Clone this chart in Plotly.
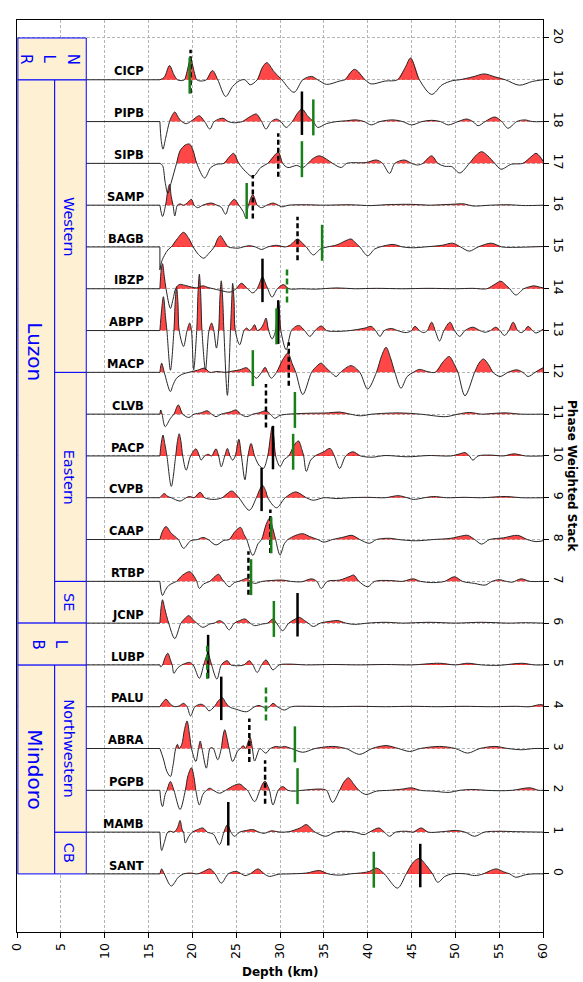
import plotly.graph_objects as go

# ---------------- data ----------------
stations = ["SANT", "MAMB", "PGPB", "ABRA", "PALU", "LUBP", "JCNP", "RTBP", "CAAP", "CVPB",
            "PACP", "CLVB", "MACP", "ABPP", "IBZP", "BAGB", "SAMP", "SIPB", "PIPB", "CICP"]

# (depth km, amplitude) control points
sant = [(16.3,0),(16.5,0.12),(16.8,0),(17.6,-0.29),(18.4,-0.08),(19.0,0),(19.8,0.02),(20.6,0),(21.3,0.06),(22.0,0.12),(22.6,0),(23.3,-0.22),(24.1,0),(25.0,0.06),(25.6,0),(26.0,-0.04),(26.6,0),(27.5,0.12),(28.2,0),(28.8,-0.06),(29.8,-0.01),(31,0),(33,0.02),(34.5,0.08),(35.5,0),(36.8,-0.03),(38,0),(39.5,0.03),(40.2,0.06),(41.0,0.14),(41.9,0),(43.4,-0.34),(44.4,0),(45.2,0.28),(45.9,0.37),(46.7,0.2),(47.4,0),(48.0,-0.2),(48.8,-0.06),(49.6,0),(50.3,0.01),(51.2,0),(52.2,-0.04),(53.2,0),(54.0,0.08),(54.7,0.12),(55.5,0.05),(56.2,0),(56.9,-0.08),(58.0,-0.02),(58.9,0),(60,0)]
mamb = [(16.3,0),(16.5,-0.44),(16.8,-0.25),(17.2,0),(17.5,0.02),(17.9,0),(18.3,0.1),(18.6,0.28),(18.85,0.05),(19.0,0),(19.2,-0.26),(19.6,-0.1),(20.0,0),(20.6,0.06),(21.2,0.1),(21.7,0),(22.4,-0.05),(23.1,-0.3),(23.6,0),(24.0,0.18),(24.4,0),(24.8,-0.1),(25.4,0),(26.2,0.04),(26.9,0.06),(27.6,0),(28.2,-0.03),(29.0,0.03),(30,0),(31,0.01),(32.3,0.1),(33.0,0.18),(33.7,0.05),(34.0,0),(35.2,-0.1),(36.3,0),(37.5,0.02),(38.5,0),(39.6,-0.06),(40.2,0),(41.3,0.1),(41.9,0),(42.5,-0.1),(43.2,0),(44.5,0.02),(45.2,0),(46.1,0.1),(46.9,0),(48.5,0.01),(50.1,0.04),(51.1,0),(52.2,-0.1),(53.3,0),(55,0.02),(57,0.01),(60,0)]
pgpb = [(16.3,0),(16.45,-0.3),(16.6,-0.39),(16.9,-0.1),(17.1,0),(17.5,0.21),(17.9,0),(18.6,-0.46),(19.2,0),(19.5,0.35),(19.9,0.54),(20.2,0.3),(20.4,0),(20.8,-0.35),(21.2,-0.1),(21.6,0),(22.0,0.05),(22.4,0),(23.1,-0.07),(23.8,0),(24.6,0.1),(25.4,0.15),(26.0,0.05),(26.3,0),(27.1,-0.27),(27.7,0),(28.0,0.15),(28.3,0.22),(28.6,0.1),(28.8,0),(29.2,-0.35),(29.8,0),(30.3,0.09),(30.9,0),(31.5,-0.02),(32.5,0),(34.7,0.03),(35.3,0),(36.0,-0.29),(36.8,0),(37.3,0.2),(37.8,0.3),(38.4,0.15),(39.0,0),(39.8,-0.1),(41,-0.02),(42.5,0),(44.0,0.03),(45.0,0.06),(46.0,0),(47.5,-0.02),(49.3,-0.05),(50.5,0),(52,0.02),(53.5,0),(55,-0.01),(56.5,0),(58.5,0.06),(59.5,0),(60,0)]
abra = [(16.3,0),(16.7,-0.25),(17.1,-0.55),(17.5,-0.67),(17.8,-0.4),(18.1,0),(18.3,0.1),(18.5,0),(18.8,0.1),(19.1,0.45),(19.4,0.66),(19.7,0.3),(19.9,0),(20.4,-0.31),(20.7,0),(20.9,0.18),(21.1,0),(21.6,-0.47),(22.0,0),(22.2,0.02),(22.4,0),(22.9,-0.27),(23.3,0),(23.5,0.3),(23.7,0.45),(23.9,0.3),(24.2,0),(24.6,-0.31),(25.2,-0.05),(25.5,0),(25.8,0.07),(26.1,0),(26.35,0.15),(26.6,0.26),(26.85,0),(27.1,-0.3),(27.7,0),(28.0,-0.05),(28.4,-0.11),(28.9,0),(29.6,0.05),(30.1,0.03),(30.5,0.05),(31.3,0),(32.6,-0.09),(34,0),(36.0,0.05),(37.5,0),(39.1,-0.14),(40.5,0),(42.1,0.07),(43.5,0),(44.8,-0.07),(46,0),(48.2,0.05),(50,0),(51.4,-0.11),(52.8,0),(54.5,0.05),(56,0),(57.5,-0.03),(59,0),(60,0)]
palu = [(16.3,0),(16.6,0.1),(17.0,0.18),(17.5,0.06),(18.0,0),(18.5,0.02),(19.0,0.08),(19.4,0),(19.8,-0.22),(20.3,0),(21.0,0.06),(21.5,0),(21.9,-0.1),(22.5,0),(23.0,0.15),(23.4,0.22),(23.8,0.1),(24.2,0),(25.0,-0.06),(26.2,-0.12),(27.1,0),(27.6,0.03),(28.0,0),(28.4,-0.04),(28.8,0),(29.2,0.08),(29.7,0),(30.5,-0.08),(31.3,0),(33,0.01),(36,0),(39,0.01),(42,0),(45,0.01),(48,0),(51,0.01),(54,0),(57,0.01),(58.5,0),(59.6,0.05),(60,0.04)]
lubp = [(16.3,0),(16.4,-0.05),(16.6,0),(16.9,0.18),(17.2,0.28),(17.5,0.12),(17.7,0),(17.9,-0.2),(18.3,-0.08),(18.8,0),(19.4,0.05),(19.7,0.06),(20.1,0),(20.8,-0.32),(21.3,0),(21.6,0.2),(21.8,0.28),(22.0,0.15),(22.2,0),(22.8,-0.34),(23.3,0),(23.7,0.08),(24.0,0.1),(24.4,0),(25.2,-0.02),(25.9,0),(26.5,0.1),(26.9,0),(27.4,-0.18),(27.9,0),(28.4,0.12),(28.8,0),(29.2,-0.12),(29.9,0),(31,0.02),(33,0),(36,0.01),(39,0),(42,0.01),(45,0),(48.2,0.04),(50,0),(51.4,0.04),(53,0),(55,-0.01),(57.6,0.04),(59,0),(60,0)]
jcnp = [(16.3,0),(16.45,0.4),(16.6,0.56),(16.85,0.35),(17.3,0),(18.0,-0.37),(18.7,0),(19.2,0.12),(19.6,0.18),(20.0,0.1),(20.5,0),(21.2,-0.1),(22.0,-0.02),(22.5,0),(23.1,0.06),(23.6,0),(24.2,-0.16),(24.8,0),(25.4,0.06),(26.0,0.1),(26.6,0),(27.1,-0.06),(28.0,-0.02),(28.6,0),(29.2,0.1),(29.6,0),(30.3,-0.18),(31.0,0),(31.6,0.08),(32.2,0.14),(32.8,0.06),(33.2,0),(33.8,-0.08),(34.6,0),(35.6,0.04),(36.6,0.06),(37.5,0),(38.5,-0.03),(40,0),(42.0,0.02),(44,0),(47,0.02),(50,0),(53,0.02),(56,0),(58,0.01),(60,0)]
rtbp = [(16.3,0),(16.45,-0.25),(16.6,-0.34),(16.9,-0.22),(17.3,-0.1),(17.8,-0.04),(18.2,0),(18.9,0.15),(19.7,0.23),(20.2,0.12),(20.5,0),(20.8,-0.17),(21.3,-0.06),(22.0,0),(22.6,0.12),(23.0,0.17),(23.4,0.05),(23.6,0),(24.2,-0.13),(24.8,-0.03),(25.3,0),(25.8,0.04),(26.2,0.07),(26.6,0),(27.1,-0.05),(28,0),(29.0,0.02),(30.3,0.03),(31.2,0),(32.5,-0.01),(33.6,0.06),(34.2,0),(34.7,-0.17),(35.4,0),(36.8,0.03),(38.0,0.12),(38.4,0.15),(39.0,0),(40.0,-0.13),(40.8,0),(42.5,0.02),(44.0,0),(45.2,0.06),(46.0,0),(47.5,-0.03),(48.8,0),(49.9,0.11),(50.8,0),(52.2,-0.05),(53.4,-0.09),(54.2,0),(55,0.04),(55.8,0),(56.5,-0.02),(57.5,0.06),(58.5,0),(60,0)]
caap = [(16.3,0),(16.6,0.2),(17.0,0.31),(17.6,0.15),(18.4,0),(19.0,-0.21),(19.8,-0.03),(20.6,0),(21.2,0.05),(21.8,0),(22.7,-0.13),(23.6,-0.02),(24.2,0),(24.9,0.2),(25.5,0.29),(25.9,0.12),(26.2,0),(26.9,-0.38),(27.5,-0.1),(27.9,0),(28.4,0.35),(28.8,0.51),(29.2,0.25),(29.5,0),(30.0,-0.37),(30.5,-0.1),(30.9,0),(31.8,0.1),(32.6,0.14),(33.4,0.07),(34.3,0),(35.0,-0.06),(36,0),(37.3,0.06),(38.2,0.1),(39.1,0),(40.2,-0.09),(41,0),(42.5,0.03),(43.5,0),(45.5,-0.03),(47.5,0),(49.5,0.03),(50.6,0.08),(51.4,0.1),(52.2,0),(53.0,-0.11),(53.9,0),(55.5,0.04),(57.1,0.1),(58.2,0),(59.2,-0.05),(60,-0.03)]
cvpb = [(16.3,0),(16.5,0.05),(16.8,0.1),(17.2,0.03),(17.6,0),(18.6,-0.08),(19.3,0),(19.7,0.03),(20.2,0),(20.9,0.13),(21.4,0),(22.5,-0.04),(23.4,0),(24.5,0.16),(25.3,0),(26.5,-0.3),(27.3,0),(27.7,0.2),(28.0,0.3),(28.4,0.15),(28.6,0),(29.6,-0.24),(30.6,0),(31.8,0.14),(33.0,0),(33.8,-0.06),(35,0),(36.5,-0.02),(38,0),(40,0.01),(42,0),(43.5,0.05),(44.5,0),(45.2,-0.04),(46.5,0),(47.5,0.03),(49,0),(51,0.01),(53,0),(55.8,0.03),(57.5,0),(60,0)]
pacp = [(16.3,0),(16.45,0.3),(16.65,0.5),(16.85,0.3),(17.1,0),(17.6,-0.73),(18.1,0),(18.3,0.35),(18.5,0.53),(18.7,0.35),(18.9,0),(19.3,-0.34),(19.8,0),(20.4,0.17),(20.8,0),(21.0,-0.1),(21.4,0),(21.8,0.04),(22.2,0),(22.7,0.17),(23.0,0),(23.3,-0.26),(23.7,0),(24.0,0.18),(24.3,0),(24.6,-0.1),(24.9,0),(25.3,0.4),(25.6,0),(26.0,-0.57),(26.35,0),(26.7,0.3),(27.1,0),(27.6,-0.22),(28.1,-0.3),(28.6,0),(28.9,0.45),(29.1,0.7),(29.3,0.45),(29.5,0),(30.0,-0.25),(30.5,-0.08),(31.0,0),(31.6,0.25),(32.1,0.36),(32.5,0.15),(32.7,0),(33.0,-0.37),(33.5,-0.1),(34.0,0),(35.0,0.1),(35.7,0.18),(36.2,0),(36.8,-0.3),(37.5,0),(38.3,0.1),(39.2,0),(40.5,-0.03),(42,0.01),(44.5,-0.02),(47,0.01),(49.5,0),(50.5,0.05),(51.1,0.08),(51.6,0),(52.0,-0.1),(52.6,0),(54,0.02),(55.5,0),(56.7,0.05),(58,0),(60,0)]
clvb = [(16.3,0),(16.4,0.1),(16.55,0),(16.9,-0.3),(17.5,-0.1),(17.9,0),(18.4,0.22),(18.9,0),(19.6,-0.08),(20.2,0),(21.0,0.03),(21.7,0.08),(22.2,0),(22.7,-0.06),(23.3,0),(24.3,0.05),(25.0,0.1),(25.5,0),(26.2,-0.06),(26.9,0),(27.6,0.03),(28.4,0.08),(28.9,0),(29.4,-0.1),(30.0,-0.03),(31,0),(33,0.02),(35.5,0.03),(36.8,0.05),(38,0),(39.2,-0.04),(40.5,0),(43.6,0.03),(46,0),(48.9,-0.06),(50.3,0),(51.6,0.04),(53,0),(54.5,0.02),(55.8,0.03),(57.5,0),(60,0)]
macp = [(16.3,0),(16.5,0.22),(16.8,0),(17.5,-0.46),(17.8,-0.3),(18.2,-0.14),(18.8,-0.05),(19.6,0),(20.6,0.05),(21.4,0.1),(22.0,0),(22.8,0.02),(23.8,0),(24.6,0.03),(25.4,0.06),(26.2,0.11),(26.7,0),(27.3,-0.14),(27.9,0),(28.3,0.12),(28.6,0),(29.0,-0.14),(29.6,0),(30.3,0.3),(30.9,0.46),(31.4,0.2),(31.8,0),(32.6,-0.53),(33.6,0),(34.2,0.15),(34.7,0.22),(35.2,0.12),(35.8,0),(36.4,-0.1),(36.9,0),(38.1,0.16),(39.1,0),(40.0,-0.4),(41.0,0),(41.6,0.4),(42.1,0.6),(42.6,0.35),(43.1,0),(43.8,-0.38),(44.5,-0.1),(45.2,0),(45.9,0.07),(46.8,0.02),(47.7,0),(48.6,0.25),(49.3,0.38),(49.9,0.18),(50.3,0),(51.1,-0.56),(52.2,0),(52.7,0.22),(53.2,0.32),(53.8,0.18),(54.3,0),(55.1,-0.1),(56.0,0),(57.0,0.06),(57.7,0),(58.3,-0.1),(59.1,0),(60,0.11)]
abpp = [(16.3,0),(16.5,0.5),(16.7,0.81),(16.95,0.3),(17.1,0),(17.5,-0.95),(17.9,0),(18.05,0.7),(18.2,1.05),(18.35,0.7),(18.5,0),(19.0,-0.38),(19.4,0),(19.7,0.18),(19.9,0),(20.15,-0.94),(20.5,0),(20.65,0.9),(20.8,1.35),(20.95,0.9),(21.1,0),(21.5,-0.94),(21.9,0),(22.2,0.18),(22.45,0),(22.75,-0.42),(23.0,0),(23.15,0.8),(23.3,1.19),(23.45,0.8),(23.6,0),(24.0,-1.55),(24.35,0),(24.5,0.75),(24.6,1.13),(24.75,0.75),(24.9,0),(25.4,-0.34),(25.9,0),(26.2,0.06),(26.5,0),(26.8,0.05),(27.1,0.14),(27.4,0),(27.8,0.05),(28.1,0.15),(28.4,0.3),(28.7,0),(29.1,-0.2),(29.5,0),(29.65,0.45),(29.8,0.73),(29.95,0.45),(30.1,0),(30.7,-0.46),(31.3,0),(31.8,0.1),(32.2,0.12),(32.8,0),(33.4,-0.14),(34.0,0),(34.7,0.11),(35.3,0),(36.5,-0.02),(38.0,0),(39.7,0.06),(40.4,0.1),(40.9,0),(41.4,-0.14),(41.9,0),(42.7,0.05),(43.4,0),(44.4,-0.05),(45.0,0),(45.4,0.1),(45.9,0),(46.4,-0.05),(46.8,0),(47.3,0.2),(47.7,0),(48.2,-0.25),(48.7,0),(49.4,0.2),(49.9,0),(50.5,-0.14),(51.1,0),(52.0,0.08),(52.8,0),(53.4,-0.04),(54.0,0),(54.6,0.08),(55.1,0),(55.6,-0.12),(56.1,0),(56.6,0.2),(57.1,0),(57.5,-0.05),(57.9,0),(58.3,0.1),(58.8,0),(59.2,-0.06),(60,0.03)]
ibzp = [(16.3,0),(16.45,0.45),(16.6,0.6),(16.8,0.3),(17.0,0),(17.5,-0.47),(17.8,-0.25),(18.1,0),(18.5,0.1),(19.2,0.08),(19.9,0.04),(20.5,0.02),(21.2,0.07),(21.8,0.03),(22.4,0),(23.2,-0.04),(24.3,-0.08),(25.0,0),(25.6,0.13),(26.3,0),(26.9,-0.1),(27.4,0),(27.7,0.15),(28.0,0.29),(28.3,0.15),(28.6,0),(29.1,-0.2),(29.7,0),(30.4,0.1),(31.0,0),(32.5,0.0),(34,-0.01),(36.5,0.02),(38.5,0),(41,0.01),(44,0),(47,0.01),(50,0),(52,0.01),(53.6,0),(54.6,0.12),(55.2,0.18),(55.8,0.08),(56.2,0),(56.9,-0.15),(57.8,0),(58.5,0.05),(59,0.07),(59.6,0.04),(60,0.02)]
bagb = [(16.3,-0.55),(16.5,-0.35),(16.9,-0.17),(17.3,-0.05),(17.6,0),(18.3,0.2),(19.0,0.35),(19.6,0.2),(20.1,0),(20.7,-0.18),(21.3,-0.27),(21.9,-0.15),(22.5,0),(22.9,0.2),(23.2,0.27),(23.6,0.15),(24.1,0),(24.6,-0.02),(25.2,-0.03),(25.8,0),(26.5,0.03),(27.2,0),(27.9,-0.06),(28.6,0),(29.6,0.04),(30.6,0),(31.2,0.05),(32.0,0.19),(32.6,0.08),(33.0,0),(33.8,-0.19),(34.6,-0.05),(35.4,0),(36.5,0.05),(37.5,0.15),(38.1,0.19),(38.6,0.1),(39.1,0),(40.0,-0.21),(40.8,-0.05),(41.4,0),(42.9,0.06),(44,0),(45.2,-0.02),(46.5,0),(48.5,0.04),(49.7,0.09),(50.6,0),(51.6,-0.1),(52.6,0),(54.1,0.09),(55.3,0),(56.5,-0.01),(60,0.01)]
samp = [(16.3,0),(16.6,-0.27),(16.95,0),(17.2,0.35),(17.4,0.5),(17.6,0.2),(17.8,0),(18.0,-0.26),(18.3,0),(18.6,0.03),(19.0,0),(19.4,0.05),(19.9,0.14),(20.2,0),(20.6,-0.06),(21.2,0),(21.8,0.04),(22.2,0.05),(22.8,0),(23.3,-0.05),(23.8,-0.22),(24.2,0),(24.8,0.14),(25.3,0),(25.8,-0.15),(26.1,-0.3),(26.4,0),(26.9,0.25),(27.4,0),(27.9,-0.06),(28.5,0),(29.2,0.05),(29.8,0),(30.2,-0.04),(31.0,0),(33,0.01),(35,0),(38,0.01),(40.4,-0.01),(42,0.01),(45,0.02),(47,0),(49.5,0.02),(51,0.03),(52,-0.02),(54,0),(56,0.01),(58,-0.01),(60,0)]
sipb = [(16.3,0),(16.6,-0.05),(16.9,-0.45),(17.2,-0.72),(17.6,-0.45),(18.2,0),(18.6,0.3),(19.2,0.44),(19.7,0.46),(20.1,0.3),(20.5,0),(21.4,-0.35),(22.1,-0.1),(22.8,-0.02),(23.6,0),(24.2,0.15),(24.7,0.24),(25.3,0),(26.1,-0.2),(26.9,-0.32),(27.8,-0.1),(28.6,0),(29.8,0.26),(30.3,0),(30.9,-0.1),(31.9,-0.05),(32.6,-0.1),(33.2,0),(33.8,0.12),(34.5,0.18),(35.3,0.1),(36.0,0),(37.0,-0.1),(37.6,0),(39.8,0.02),(41.0,0.08),(41.7,0),(42.5,-0.24),(43.1,0),(44.2,0.08),(45.0,0),(45.7,-0.04),(46.3,0),(47.3,0.18),(48.0,0),(48.8,-0.07),(49.6,-0.08),(50.5,-0.23),(51.6,0),(52.4,0.2),(53.0,0.28),(53.7,0.18),(54.5,0),(55.2,-0.14),(56.4,-0.02),(57.7,0),(58.6,0.15),(59.2,0.24),(59.7,0.15),(60,0.05)]
pipb = [(16.3,0),(16.45,-0.45),(16.65,-0.66),(16.95,-0.4),(17.4,0),(17.7,0.15),(18.0,0.23),(18.4,0.1),(18.8,0),(19.3,-0.05),(19.8,0),(20.3,0.08),(20.8,0.14),(21.4,0),(22.0,-0.18),(22.5,0),(23.5,0.08),(24.1,0),(24.8,-0.03),(25.7,0),(26.6,0.12),(27.3,0.18),(27.9,0),(28.4,-0.18),(29.0,0),(29.6,0.06),(30.1,0),(30.7,-0.14),(31.4,0),(32.0,0.2),(32.5,0.3),(33.2,0.12),(33.8,0),(34.3,-0.14),(35.3,-0.05),(36.5,0),(37.6,0.02),(38.7,0.04),(39.6,0),(40.4,-0.08),(41.4,0),(42.9,0.04),(44.0,0),(45,-0.08),(46.2,0),(47.3,0.03),(48.3,0),(49.2,-0.08),(50.3,0),(51.3,0.06),(52.0,0),(52.6,-0.1),(53.4,0),(54.5,0.11),(55.3,0),(56.0,-0.16),(57.0,0),(57.9,0.04),(58.8,0),(60,0)]
cicp = [(16.3,0),(16.8,0.06),(17.4,0.34),(17.9,0.12),(18.3,0),(18.7,-0.02),(19.1,0),(19.4,0.2),(19.8,0.5),(20.2,0.2),(20.5,0),(21.0,-0.03),(21.6,0),(22.3,0.22),(22.9,0),(23.8,-0.4),(24.6,-0.16),(25.4,-0.02),(26.0,0.0),(26.6,-0.12),(27.4,0),(28.0,0.3),(28.5,0.41),(29.3,0.2),(30.2,0),(31.6,-0.3),(32.6,0),(33.6,0.08),(34.3,0),(35.3,-0.11),(36.8,-0.03),(37.4,0),(38.5,0.25),(39.7,0),(40.4,-0.1),(42.0,-0.03),(43.4,0),(44.3,0.3),(44.9,0.52),(45.9,0),(47.3,-0.35),(48.5,-0.12),(49.7,-0.02),(50.5,0),(52,0.07),(53.3,0.14),(54.5,0.07),(55.7,0),(57.3,-0.13),(58.8,-0.04),(60,0)]

waveforms = [sant, mamb, pgpb, abra, palu, lubp, jcnp, rtbp, caap, cvpb,
             pacp, clvb, macp, abpp, ibzp, bagb, samp, sipb, pipb, cicp]

# picked depths (km) per station, None = not shown
black_depth  = [46.0, 24.1, 28.3, 26.5, 23.3, 21.8, 32.0, 26.4, 28.9, 27.9,
                29.2, 28.4, 31.0, 29.8, 28.0, 32.0, 26.9, 29.8, 32.5, 19.8]
black_dashed = [False, False, True, True, False, False, False, True, True, False,
                False, True, True, False, False, True, True, True, False, True]
green_depth  = [40.7, None, 32.0, 31.7, 28.4, 21.7, 29.3, 26.7, 29.0, None,
                31.5, 31.7, 26.9, 29.6, 30.8, 34.8, 26.2, 32.5, 33.8, 19.7]
green_dashed = [False, False, False, False, True, True, False, False, False, False,
                False, False, False, False, True, False, False, False, False, False]

# region boxes (station-index ranges)
island_names = ["Mindoro", "Luzon"]
island_from = [0, 6]
island_to = [5, 19]
full_names = ["LB", "NLR"]
full_from = [5, 19]
full_to = [6, 20]
sub_names = ["CB", "Northwestern", "SE", "Eastern", "Western"]
sub_from = [0, 1, 6, 7, 12]
sub_to = [1, 5, 7, 12, 19]

x_ticks = list(range(0, 61, 5))
y_ticks = list(range(0, 21))

# ---------------- styling constants ----------------
FONT = "DejaVu Sans"
BOX_L, BOX_M, BOX_R = 0.1, 4.3, 7.9
BASE_START = 7.9
LINE_COL = "#262626"
FILL_COL = "rgba(255,0,0,0.72)"
GREEN = "#188018"
BLUE = "#0000ff"
CREAM = "#fef0d3"

fig = go.Figure()


def lobes(pts):
    """Segments of positive amplitude, closed on the zero line."""
    xs, ys = [], []
    n = len(pts)
    i = 0
    while i < n:
        if pts[i][1] > 0:
            seg = []
            if i > 0:
                x0, y0 = pts[i - 1]
                x1, y1 = pts[i]
                seg.append((x0 + (x1 - x0) * (0 - y0) / (y1 - y0) if y0 < 0 else x0, 0.0))
            else:
                seg.append((pts[i][0], 0.0))
            while i < n and pts[i][1] > 0:
                seg.append(pts[i])
                i += 1
            if i < n:
                x0, y0 = pts[i - 1]
                x1, y1 = pts[i]
                seg.append((x0 + (x1 - x0) * y0 / (y0 - y1) if y1 < 0 else x1, 0.0))
            else:
                seg.append((pts[-1][0], 0.0))
            for p in seg:
                xs.append(p[0]); ys.append(p[1])
            xs.append(None); ys.append(None)
        else:
            i += 1
    return xs, ys


for k, pts in enumerate(waveforms):
    # flat lead-in line
    fig.add_trace(go.Scatter(x=[BASE_START, pts[0][0], pts[0][0]], y=[k, k, k + pts[0][1]],
                             mode="lines", line=dict(color=LINE_COL, width=1),
                             hoverinfo="skip", showlegend=False))
    fx, fy = lobes(pts)
    fig.add_trace(go.Scatter(x=fx, y=[None if v is None else k + v for v in fy],
                             mode="lines", fill="toself", fillcolor=FILL_COL,
                             line=dict(width=0, shape="spline", smoothing=0.9, color="rgba(0,0,0,0)"),
                             hoverinfo="skip", showlegend=False))
    fig.add_trace(go.Scatter(x=[p[0] for p in pts], y=[k + p[1] for p in pts],
                             mode="lines", line=dict(color=LINE_COL, width=1, shape="spline", smoothing=0.9),
                             hoverinfo="skip", showlegend=False))

for k, d in enumerate(black_depth):
    if d is None:
        continue
    fig.add_trace(go.Scatter(x=[d, d], y=[k - 0.32, k + 0.72], mode="lines",
                             line=dict(color="black", width=2.5,
                                       dash="5px,3px" if black_dashed[k] else "solid"),
                             hoverinfo="skip", showlegend=False))
for k, d in enumerate(green_depth):
    if d is None:
        continue
    fig.add_trace(go.Scatter(x=[d, d], y=[k - 0.33, k + 0.53], mode="lines",
                             line=dict(color=GREEN, width=2.5,
                                       dash="6px,3px" if green_dashed[k] else "solid"),
                             hoverinfo="skip", showlegend=False))

shapes = []
annotations = []


def rect(x0, x1, y0, y1):
    shapes.append(dict(type="rect", xref="x", yref="y", x0=x0, x1=x1, y0=y0, y1=y1,
                       fillcolor=CREAM, line=dict(color=BLUE, width=1), layer="above"))


for name, a, b in zip(island_names, island_from, island_to):
    rect(BOX_L, BOX_M, a, b)
    annotations.append(dict(x=1.95, y=(a + b) / 2, xref="x", yref="y", text=name, showarrow=False,
                            textangle=90, font=dict(family=FONT, size=20, color=BLUE),
                            xanchor="center", yanchor="middle"))
for name, a, b in zip(sub_names, sub_from, sub_to):
    rect(BOX_M, BOX_R, a, b)
    annotations.append(dict(x=5.95, y=(a + b) / 2, xref="x", yref="y", text=name, showarrow=False,
                            textangle=90, font=dict(family=FONT, size=14.5, color=BLUE),
                            xanchor="center", yanchor="middle"))
for name, a, b in zip(full_names, full_from, full_to):
    rect(BOX_L, BOX_R, a, b)
    n = len(name)
    for j, ch in enumerate(name):
        xc = 3.7 + ((n - 1) / 2 - j) * 2.7
        annotations.append(dict(x=xc, y=(a + b) / 2, xref="x", yref="y", text=ch, showarrow=False,
                                textangle=90, font=dict(family=FONT, size=15, color=BLUE),
                                xanchor="center", yanchor="middle"))

for k, s in enumerate(stations):
    annotations.append(dict(x=14.75, y=k + 0.2, xref="x", yref="y", text="<b>%s</b>" % s,
                            showarrow=False, xanchor="right", yanchor="middle",
                            font=dict(family=FONT, size=11.5, color="black")))

annotations.append(dict(x=0.5, y=-0.044, xref="paper", yref="paper", text="<b>Depth (km)</b>",
                        showarrow=False, xanchor="center", yanchor="middle",
                        font=dict(family=FONT, size=12, color="black")))
annotations.append(dict(x=1.055, y=0.5, xref="paper", yref="paper", text="<b>Phase Weighted Stack</b>",
                        showarrow=False, textangle=90, xanchor="center", yanchor="middle",
                        font=dict(family=FONT, size=12, color="black")))

fig.update_layout(
    width=583, height=982,
    margin=dict(l=17, r=40, t=20, b=50, autoexpand=False),
    paper_bgcolor="white", plot_bgcolor="white",
    font=dict(family=FONT, size=12, color="black"),
    shapes=shapes, annotations=annotations, showlegend=False,
    xaxis=dict(range=[0, 60], tickmode="array", tickvals=x_ticks, ticktext=[str(v) for v in x_ticks],
               tickangle=-90, ticks="outside", ticklen=5, tickwidth=1, tickcolor="black",
               showline=True, linecolor="black", linewidth=1, mirror=True, automargin=False,
               showgrid=True, gridcolor="#b4b4b4", gridwidth=0.8, griddash="3px,2px",
               zeroline=False, tickfont=dict(family=FONT, size=12.5)),
    yaxis=dict(range=[-1.39, 20.43], side="right", tickmode="array", tickvals=y_ticks,
               ticktext=[str(v) for v in y_ticks], tickangle=90, automargin=False,
               ticks="outside", ticklen=5, tickwidth=1, tickcolor="black",
               showline=True, linecolor="black", linewidth=1, mirror=True,
               showgrid=True, gridcolor="#b4b4b4", gridwidth=0.8, griddash="3px,2px",
               zeroline=False, tickfont=dict(family=FONT, size=12.5)),
)

fig.write_html("out.html", config={"displayModeBar": False},
               post_script="document.body.style.margin='0px';document.body.style.overflow='hidden';")
